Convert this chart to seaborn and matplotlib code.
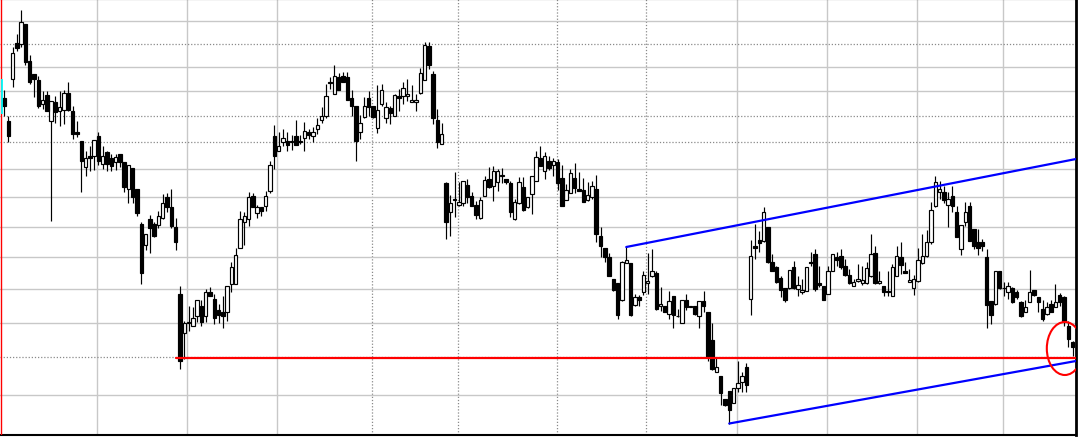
import numpy as np
import pandas as pd
import matplotlib
matplotlib.use("Agg")
import matplotlib.pyplot as plt
from matplotlib.patches import Ellipse
import seaborn as sns

# ---- candle data (one candle per trading day, 250 days) ----
opens = [
    34.1, 31.8, 36.0, 39.6, 39.5, 41.5, 37.8, 36.5, 35.9, 33.5,
    34.4, 31.8, 33.7, 32.8, 32.9, 34.6, 32.8, 30.7, 29.8, 27.2,
    28.3, 28.3, 30.3, 27.5, 28.7, 28.1, 27.7, 28.5, 27.7, 25.0,
    27.1, 25.0, 21.5, 19.4, 22.0, 21.5, 21.4, 22.1, 24.2, 23.2,
    21.2, 14.5, 10.6, 11.6, 11.3, 12.3, 13.3, 12.3, 14.7, 14.0,
    12.9, 12.7, 12.7, 15.5, 15.5, 19.1, 21.7, 22.0, 24.3, 22.6,
    23.2, 23.3, 24.8, 30.3, 28.8, 29.7, 29.8, 29.7, 30.3, 29.7,
    30.1, 30.7, 30.3, 31.0, 31.9, 32.3, 35.7, 34.5, 36.2, 36.3,
    36.2, 34.1, 33.3, 30.7, 32.2, 34.1, 33.3, 31.1, 33.5, 32.1,
    33.1, 32.3, 34.3, 34.3, 34.3, 33.7, 33.7, 34.6, 35.9, 39.3,
    36.5, 31.9, 29.5, 25.6, 22.7, 23.9, 23.4, 23.6, 25.4, 24.3,
    23.4, 22.1, 24.3, 26.0, 25.3, 25.7, 26.3, 26.0, 25.6, 22.0,
    23.6, 25.2, 23.2, 24.5, 25.8, 28.1, 26.8, 27.8, 27.4, 27.7,
    26.1, 23.9, 24.6, 26.1, 25.0, 24.9, 23.9, 24.2, 25.0, 20.3,
    19.1, 18.2, 16.0, 15.6, 13.9, 17.6, 17.6, 13.4, 14.2, 14.7,
    15.6, 16.3, 16.6, 13.3, 13.3, 12.5, 14.3, 12.3, 11.6, 13.9,
    13.3, 13.3, 12.3, 13.8, 12.7, 9.9, 6.7, 6.3, 4.0, 4.8,
    3.6, 5.1, 5.7, 7.2, 14.0, 19.3, 19.9, 19.8, 21.2, 17.7,
    17.2, 16.1, 15.1, 15.1, 17.2, 15.0, 14.7, 14.8, 17.7, 18.5,
    15.6, 15.3, 14.5, 16.8, 18.2, 18.3, 17.3, 16.4, 15.3, 15.8,
    15.6, 15.6, 16.3, 18.6, 15.6, 15.3, 14.8, 14.3, 16.3, 18.2,
    16.8, 15.7, 15.1, 15.8, 17.6, 18.3, 19.7, 23.3, 24.7, 24.7,
    23.4, 24.3, 22.7, 19.0, 21.7, 23.3, 21.0, 19.7, 19.7, 18.2,
    13.8, 13.5, 16.8, 15.1, 14.7, 15.1, 14.7, 13.7, 12.7, 13.7,
    14.9, 14.2, 13.0, 12.5, 13.5, 13.2, 14.4, 14.2, 11.3, 9.7,
]
highs = [
    34.9, 32.3, 39.2, 40.5, 42.9, 41.5, 38.4, 36.5, 36.3, 34.8,
    34.8, 33.8, 34.3, 34.8, 34.9, 35.7, 33.3, 31.8, 29.8, 28.8,
    29.3, 29.9, 30.7, 29.3, 28.8, 28.5, 28.5, 28.5, 27.7, 27.4,
    27.1, 25.0, 21.7, 20.5, 22.4, 21.7, 22.8, 24.5, 24.6, 25.0,
    22.1, 15.3, 11.8, 13.3, 13.2, 13.9, 13.9, 15.0, 15.2, 14.5,
    13.5, 14.3, 15.3, 17.7, 19.1, 22.8, 22.7, 24.7, 24.6, 23.4,
    23.2, 24.8, 27.8, 31.4, 30.7, 31.0, 30.7, 30.4, 31.9, 30.4,
    31.7, 31.0, 31.2, 32.1, 33.2, 35.5, 36.2, 37.4, 36.6, 36.7,
    36.7, 34.9, 33.3, 32.4, 34.2, 34.8, 33.3, 35.4, 35.5, 33.7,
    33.3, 34.5, 35.0, 35.7, 36.0, 35.4, 34.5, 37.1, 39.7, 39.7,
    36.8, 33.0, 31.6, 25.7, 24.4, 26.7, 25.7, 25.8, 26.0, 24.7,
    23.8, 24.2, 26.3, 27.2, 27.3, 27.0, 27.1, 26.0, 25.8, 24.0,
    26.2, 26.2, 24.2, 26.3, 28.8, 29.3, 28.7, 28.3, 28.1, 28.0,
    27.4, 25.5, 27.0, 27.6, 26.7, 26.1, 25.7, 25.8, 26.4, 21.2,
    19.1, 18.6, 16.0, 15.6, 17.8, 19.2, 17.6, 14.5, 14.4, 16.8,
    18.6, 19.0, 16.8, 15.2, 13.3, 14.8, 14.3, 13.0, 13.9, 14.5,
    13.3, 13.3, 13.8, 14.8, 12.7, 11.6, 8.2, 6.3, 4.0, 4.8,
    5.1, 7.8, 6.7, 7.6, 19.9, 21.5, 20.8, 23.2, 21.2, 18.5,
    17.3, 16.3, 15.1, 16.9, 17.8, 16.3, 16.0, 17.2, 18.7, 19.0,
    17.3, 15.3, 17.3, 18.5, 18.7, 19.0, 18.0, 17.0, 16.0, 17.5,
    17.3, 17.7, 20.5, 19.3, 16.8, 15.3, 16.8, 17.5, 19.3, 19.7,
    17.7, 17.0, 16.4, 19.1, 20.5, 20.9, 23.7, 26.3, 25.8, 25.3,
    24.7, 25.3, 23.3, 21.4, 23.7, 23.7, 21.0, 21.0, 20.0, 19.0,
    13.8, 16.8, 16.8, 15.7, 15.7, 15.2, 14.9, 13.8, 13.9, 16.9,
    14.9, 14.2, 13.9, 13.7, 13.9, 15.5, 14.6, 14.3, 11.8, 9.8,
]
lows = [
    32.3, 29.7, 35.2, 38.8, 39.2, 37.4, 35.5, 34.2, 33.1, 33.0,
    32.8, 21.8, 31.6, 31.3, 31.5, 32.8, 30.0, 30.2, 24.7, 26.3,
    26.8, 26.9, 27.4, 27.0, 26.8, 26.8, 26.9, 27.2, 24.7, 23.6,
    23.6, 22.3, 15.5, 18.9, 18.6, 20.2, 21.1, 22.0, 22.7, 21.1,
    18.9, 7.0, 8.0, 10.8, 11.3, 11.7, 11.3, 11.7, 14.3, 11.5,
    11.6, 11.1, 11.8, 14.7, 15.5, 19.1, 19.4, 21.3, 23.2, 22.1,
    22.3, 22.8, 24.6, 27.0, 28.8, 29.3, 28.8, 28.9, 29.4, 29.5,
    28.8, 30.0, 29.7, 30.5, 31.6, 32.1, 35.0, 34.5, 34.9, 35.7,
    33.9, 32.3, 27.8, 30.0, 32.1, 32.3, 32.1, 30.6, 33.3, 31.6,
    31.5, 32.3, 32.8, 33.5, 33.8, 33.7, 32.8, 34.5, 35.9, 37.0,
    31.5, 29.1, 29.5, 20.0, 20.3, 22.2, 23.3, 23.3, 23.6, 23.3,
    22.0, 22.0, 24.3, 25.1, 23.8, 24.8, 25.6, 25.5, 22.2, 21.9,
    23.5, 22.8, 23.1, 22.5, 25.8, 27.3, 26.0, 26.9, 26.3, 24.9,
    23.3, 23.9, 24.6, 24.6, 24.8, 23.7, 23.8, 24.0, 19.7, 18.2,
    17.7, 16.3, 14.8, 12.0, 13.8, 17.6, 12.3, 13.3, 13.3, 14.4,
    14.5, 16.2, 12.9, 12.8, 12.7, 12.0, 11.1, 12.2, 11.6, 12.9,
    13.2, 12.4, 11.1, 12.7, 7.8, 6.9, 6.7, 3.4, 3.3, 1.5,
    3.6, 4.7, 4.7, 4.7, 12.4, 18.0, 18.7, 19.7, 17.6, 16.8,
    15.6, 14.2, 13.7, 15.0, 15.0, 14.3, 14.5, 14.8, 17.3, 14.8,
    15.2, 13.9, 14.5, 16.8, 17.3, 17.0, 16.3, 15.5, 15.3, 15.7,
    15.4, 15.5, 16.2, 15.5, 15.5, 14.3, 14.3, 14.3, 16.3, 16.5,
    16.6, 15.7, 14.4, 15.7, 17.5, 18.2, 19.5, 23.2, 24.0, 23.6,
    21.2, 22.7, 20.2, 18.4, 21.3, 19.8, 19.0, 18.4, 18.8, 11.1,
    11.5, 13.4, 15.0, 14.3, 14.0, 13.6, 14.0, 12.2, 12.7, 13.7,
    14.3, 12.7, 11.8, 12.4, 12.7, 13.2, 13.3, 11.3, 9.2, 8.3,
]
closes = [
    33.3, 30.3, 38.6, 39.1, 41.7, 37.7, 35.7, 36.0, 33.3, 33.9,
    32.8, 33.8, 32.7, 33.2, 34.6, 32.9, 30.5, 30.5, 27.8, 28.1,
    28.1, 29.9, 27.8, 28.3, 27.5, 27.3, 28.2, 27.7, 25.2, 27.4,
    24.2, 22.6, 16.6, 20.5, 21.1, 20.3, 22.3, 23.6, 23.2, 21.3,
    19.7, 7.8, 11.6, 11.7, 12.1, 13.9, 11.7, 14.7, 14.3, 12.1,
    12.4, 12.3, 15.3, 17.2, 18.4, 22.0, 22.3, 24.2, 23.2, 23.2,
    22.8, 24.3, 27.4, 28.3, 29.3, 30.1, 29.4, 29.8, 29.4, 29.8,
    30.8, 30.4, 30.7, 31.4, 32.3, 34.3, 35.6, 36.3, 34.9, 35.7,
    33.9, 33.3, 29.8, 31.6, 33.3, 33.2, 32.2, 32.9, 34.9, 33.2,
    32.6, 34.4, 34.1, 35.1, 34.5, 33.9, 33.9, 36.6, 39.4, 37.4,
    32.1, 29.7, 30.5, 21.7, 23.6, 24.0, 23.7, 25.8, 24.2, 23.3,
    22.4, 23.9, 25.9, 25.2, 26.8, 26.8, 26.4, 25.7, 22.7, 23.7,
    25.7, 22.9, 24.2, 26.3, 28.2, 27.3, 28.3, 27.1, 27.8, 25.6,
    23.3, 24.9, 26.6, 25.1, 24.8, 23.7, 24.4, 25.3, 20.5, 19.3,
    18.2, 16.3, 14.9, 12.4, 17.7, 17.9, 12.4, 14.2, 13.9, 16.4,
    15.8, 16.8, 13.0, 13.5, 12.7, 13.8, 12.4, 12.35, 13.9, 13.2,
    13.2, 12.5, 13.8, 13.3, 8.2, 7.0, 7.2, 4.6, 3.4, 2.9,
    5.1, 5.6, 6.3, 5.4, 18.3, 19.1, 19.6, 22.7, 17.7, 16.8,
    15.7, 14.9, 13.9, 16.9, 15.1, 15.4, 14.9, 17.2, 17.6, 15.0,
    15.4, 13.9, 16.8, 18.5, 17.9, 17.2, 16.4, 15.6, 15.7, 16.0,
    15.9, 17.1, 18.5, 15.6, 15.8, 14.7, 14.7, 17.2, 18.3, 17.4,
    16.6, 15.9, 16.0, 17.9, 18.3, 19.7, 22.9, 25.7, 25.0, 23.9,
    24.0, 23.3, 20.2, 21.4, 22.7, 19.8, 19.3, 19.1, 19.3, 13.4,
    12.4, 16.8, 15.1, 15.15, 15.3, 13.7, 14.2, 12.3, 13.2, 14.7,
    14.4, 13.7, 12.0, 13.2, 12.7, 13.7, 13.7, 11.8, 10.0, 9.2,
]

# ---- grid levels (no labels are shown on the chart) ----
price_grid_solid = [41.8, 37.2, 34.8, 27.0, 24.2, 21.2, 18.2, 15.0, 11.6, 4.4]
price_grid_dotted = [39.5, 32.3, 29.7, 8.2]
day_grid_solid = [21.7, 42.7, 63.7, 170.8, 191.8, 212.8, 232.8]
day_grid_dotted = [85.8, 105.8, 128.8, 149.7]

# ---- drawn annotations ----
support_day = [40, 249.8]
support_price = [8.15, 8.15]
upper_channel_day = [145, 249.8]
upper_channel_price = [19.2, 28.0]
lower_channel_day = [169, 249.8]
lower_channel_price = [1.55, 7.8]
marker_day, marker_price = 247.2, 9.05
marker_w, marker_h = 8.4, 5.3
cursor_day = -0.52
cursor_range = [32.5, 36.0]

df = pd.DataFrame({"open": opens, "high": highs, "low": lows, "close": closes})
df["day"] = np.arange(len(df))
up = df["close"] >= df["open"]

sns.set_theme(style="white")
plt.rcParams["font.family"] = ["DejaVu Sans"]

fig = plt.figure(figsize=(10.78, 4.39), dpi=100)
ax = fig.add_axes([0, 3 / 439, 1076 / 1078, 436 / 439])
ax.set_facecolor("white")
ax.set_xlim(-0.93, 249.8)
ax.set_ylim(0.4, 44.0)

ax.set_xticks(day_grid_solid)
ax.set_xticks(day_grid_dotted, minor=True)
ax.set_yticks(price_grid_solid)
ax.set_yticks(price_grid_dotted, minor=True)
ax.tick_params(which="both", length=0, labelbottom=False, labelleft=False)
ax.grid(True, which="major", color="#c8c8c8", lw=1.0, ls="-")
ax.grid(True, which="minor", color="#8a8a8a", lw=0.9, ls=(0, (1, 1.5)))
ax.set_axisbelow(True)

# wicks
ax.vlines(df["day"], df["low"], df["high"], color="black", lw=0.85, zorder=2)
# bodies
ax.bar(df.loc[up, "day"], df.loc[up, "close"] - df.loc[up, "open"],
       bottom=df.loc[up, "open"], width=0.8, color="white",
       edgecolor="black", linewidth=0.85, zorder=3)
ax.bar(df.loc[~up, "day"], df.loc[~up, "close"] - df.loc[~up, "open"],
       bottom=df.loc[~up, "open"], width=0.8, color="black",
       edgecolor="black", linewidth=0.85, zorder=3)

# support line and channel
sns.lineplot(x=support_day, y=support_price, ax=ax, color="#ff0000", lw=1.6, zorder=6)
sns.lineplot(x=upper_channel_day, y=upper_channel_price, ax=ax, color="#0000ff", lw=1.6, zorder=6)
sns.lineplot(x=lower_channel_day, y=lower_channel_price, ax=ax, color="#0000ff", lw=1.6, zorder=6)
ax.add_patch(Ellipse((marker_day, marker_price), marker_w, marker_h, fill=False,
                     edgecolor="#ff0000", lw=1.5, zorder=7))

# left cursor marks
ax.axvline(cursor_day - 0.1, color="#ff0000", lw=1.0, zorder=6)
ax.vlines([cursor_day], cursor_range[0], cursor_range[1], color="#00ffff", lw=1.3, zorder=7)

for side in ["top", "right", "bottom"]:
    ax.spines[side].set_visible(True)
    ax.spines[side].set_color("black")
ax.spines["top"].set_linewidth(1.5)
ax.spines["right"].set_linewidth(2.0)
ax.spines["bottom"].set_linewidth(1.5)
ax.spines["left"].set_visible(False)

fig.savefig("out.png", dpi=100)
